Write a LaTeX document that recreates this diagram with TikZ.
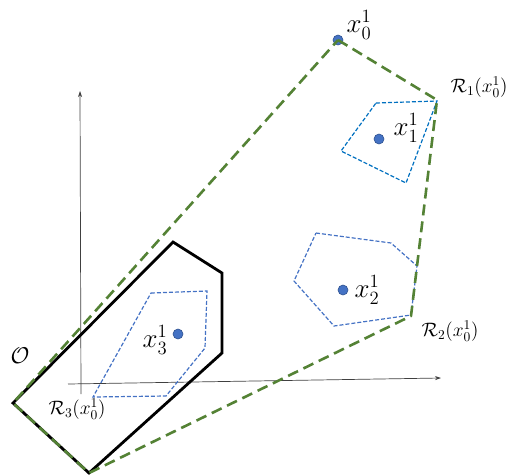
\documentclass[tikz,border=0pt]{standalone}
\usetikzlibrary{arrows.meta}
\definecolor{hullgreen}{RGB}{84,130,53}
\definecolor{regblue}{RGB}{0,112,192}
\definecolor{lightblue}{RGB}{68,114,196}
\definecolor{dotblue}{RGB}{68,114,196}
\definecolor{dotedge}{RGB}{47,82,143}
\tikzset{
  hull/.style={hullgreen, line width=2.6pt, dash pattern=on 11pt off 6pt, line join=round},
  obst/.style={black, line width=2.8pt, line join=miter},
  region/.style={line width=1.2pt, dash pattern=on 4pt off 2pt},
  axis/.style={black!75, line width=0.7pt, -{Stealth[length=6pt,width=4pt]}},
  pt/.style={circle, fill=dotblue, draw=dotedge, line width=0.6pt, minimum size=10pt, inner sep=0pt},
  xlab/.style={inner sep=0pt, font=\huge, scale=1.3},
  rlab/.style={inner sep=0pt, font=\Large, scale=1.35},
  olab/.style={inner sep=0pt, font=\huge, scale=1.1},
}
\begin{document}
\begin{tikzpicture}[x=1pt,y=-1pt]
\useasboundingbox (0,0) rectangle (511,475);
% axes
\coordinate (ay0) at (81,394);
\coordinate (ay1) at (80,91);
\coordinate (ax0) at (68,384);
\coordinate (ax1) at (441,378);
\draw[axis] (ay0) -- (ay1);
\draw[axis] (ax0) -- (ax1);
% obstacle
\coordinate (o1) at (13,403);
\coordinate (o2) at (173,242);
\coordinate (o3) at (222,273);
\coordinate (o4) at (222,353);
\coordinate (o5) at (89,473);
\draw[obst] (o1) -- (o2) -- (o3) -- (o4) -- (o5) -- cycle;
% regions
\draw[region, regblue] (376,103) -- (437,101) -- (406,183) -- (341,151) -- cycle;
\draw[region, lightblue] (316,233) -- (391,243) -- (417,266) -- (411,315) -- (334,326) -- (294,281) -- cycle;
\draw[region, lightblue] (151,293) -- (207,291) -- (205,348) -- (166,396) -- (93,397) -- cycle;
% hull
\coordinate (h1) at (437,100);
\coordinate (h2) at (411,316);
\coordinate (h3) at (89,473);
\coordinate (h4) at (13,403);
\node[pt] (x0) at (338,40) {};
\draw[hull] (x0.center) -- (h1) -- (h2) -- (h3) -- (h4) -- cycle;
% points
\node[pt] (x1) at (379,139) {};
\node[pt] (x2) at (343,290) {};
\node[pt] (x3) at (178,334) {};
% labels
\node[xlab] (lx0) at (359,25) {$x_0^1$};
\node[xlab] (lx1) at (406,128) {$x_1^1$};
\node[xlab] (lx2) at (367,290) {$x_2^1$};
\node[xlab] (lx3) at (155,340) {$x_3^1$};
\node[rlab] (lr1) at (479,87) {$\mathcal{R}_1(x_0^1)$};
\node[rlab] (lr2) at (450,331) {$\mathcal{R}_2(x_0^1)$};
\node[rlab] (lr3) at (77,409) {$\mathcal{R}_3(x_0^1)$};
\node[olab] (lo) at (20,356) {$\mathcal{O}$};
\end{tikzpicture}
\end{document}
